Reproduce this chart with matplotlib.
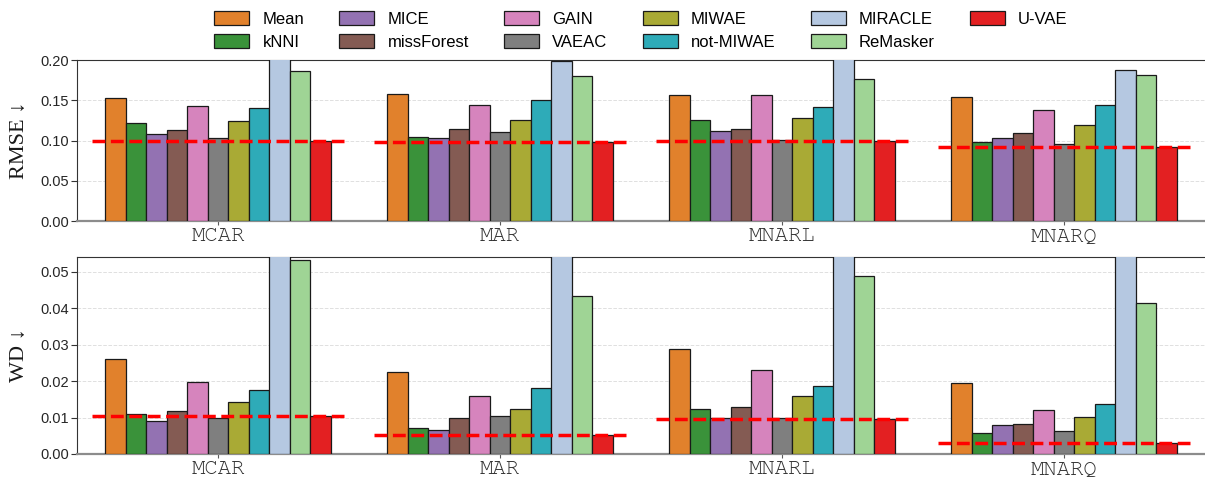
import matplotlib
matplotlib.use("Agg")
import matplotlib.pyplot as plt
import numpy as np
import seaborn as sns

# data
mechanisms = ["MCAR", "MAR", "MNARL", "MNARQ"]
methods = ["Mean", "kNNI", "MICE", "missForest", "GAIN", "VAEAC",
           "MIWAE", "not-MIWAE", "MIRACLE", "ReMasker", "U-VAE"]
base_colors = ["tab:orange", "tab:green", "tab:purple", "tab:brown", "tab:pink",
               "tab:gray", "tab:olive", "tab:cyan", "#aec7e8", "#98df8a", "#e32022"]

# rows = mechanisms, columns = methods (MIRACLE is clipped by the axis)
rmse = [
    [0.153, 0.122, 0.108, 0.113, 0.143, 0.103, 0.124, 0.140, 0.215, 0.186, 0.100],
    [0.158, 0.104, 0.103, 0.114, 0.144, 0.110, 0.125, 0.150, 0.199, 0.180, 0.098],
    [0.156, 0.126, 0.112, 0.114, 0.157, 0.101, 0.128, 0.142, 0.220, 0.176, 0.099],
    [0.154, 0.098, 0.103, 0.109, 0.138, 0.096, 0.119, 0.144, 0.188, 0.181, 0.092],
]
wd = [
    [0.0261, 0.0111, 0.0091, 0.0118, 0.0199, 0.0098, 0.0142, 0.0176, 0.080, 0.0532, 0.0104],
    [0.0226, 0.0071, 0.0067, 0.0100, 0.0160, 0.0104, 0.0124, 0.0180, 0.075, 0.0433, 0.0051],
    [0.0289, 0.0123, 0.0098, 0.0129, 0.0232, 0.0100, 0.0158, 0.0186, 0.085, 0.0489, 0.0096],
    [0.0195, 0.0057, 0.0080, 0.0083, 0.0120, 0.0062, 0.0101, 0.0137, 0.070, 0.0415, 0.0029],
]

# seaborn-style 0.75 saturation, except the bright red of U-VAE
colors = [sns.desaturate(c, 0.75) for c in base_colors[:-1]] + [base_colors[-1]]

mono = ["Courier New", "Nimbus Mono PS", "FreeMono", "Liberation Mono"]

fig = plt.figure(figsize=(12.05, 4.79), dpi=100)
ax1 = fig.add_axes([0.064, 0.5386, 0.936, 0.336])
ax2 = fig.add_axes([0.064, 0.0522, 0.936, 0.4113])

n = len(methods)
width = 0.8 / n
x = np.arange(len(mechanisms))


def draw(ax, values, ylim, yticks, ylabel):
    vals = np.array(values)
    for j in range(n):
        pos = x - 0.4 + width * (j + 0.5)
        ax.bar(pos, vals[:, j], width=width, color=colors[j], edgecolor="0.1",
               linewidth=0.9, label=methods[j], zorder=3)
    # reference line at the U-VAE value
    for i in range(len(mechanisms)):
        ax.hlines(vals[i, -1], x[i] - 0.447, x[i] + 0.447, colors="#ff0000",
                  linestyles="--", linewidth=2.5, zorder=4)
    ax.set_xlim(-0.5, 3.5)
    ax.set_ylim(*ylim)
    ax.set_yticks(yticks)
    ax.set_yticklabels([f"{t:.2f}" for t in yticks], fontsize=10.5,
                       family="Liberation Sans", color="0.15")
    ax.set_xticks(x)
    ax.set_xticklabels(mechanisms, family=mono, fontsize=16, color="0.2")
    ax.yaxis.grid(True, linestyle="--", color="0.88", linewidth=0.7, zorder=0)
    ax.set_axisbelow(True)
    ax.set_ylabel(ylabel, family=["Liberation Serif", "DejaVu Serif"], fontsize=16,
                  color="0.1", labelpad=8)
    ax.spines["right"].set_visible(False)
    ax.spines["top"].set_color("0.2")
    ax.spines["left"].set_color("0.2")
    ax.spines["bottom"].set_color("0.55")
    ax.spines["bottom"].set_linewidth(1.6)
    ax.tick_params(axis="x", length=3, color="0.35", pad=1.5)
    ax.tick_params(axis="y", length=4, color="0.2", pad=2)


draw(ax1, rmse, (0, 0.20), [0.00, 0.05, 0.10, 0.15, 0.20], "RMSE \u2193")
draw(ax2, wd, (0, 0.0541), [0.00, 0.01, 0.02, 0.03, 0.04, 0.05], "WD \u2193")

handles, labels = ax1.get_legend_handles_labels()
fig.legend(handles, labels, loc="upper center", bbox_to_anchor=(0.532, 1.008),
           ncol=6, frameon=False, prop={"family": "Liberation Sans", "size": 12},
           handlelength=2.1, handleheight=0.9, columnspacing=2.1, labelspacing=0.45,
           handletextpad=0.8)

fig.savefig("out.png", dpi=100)
